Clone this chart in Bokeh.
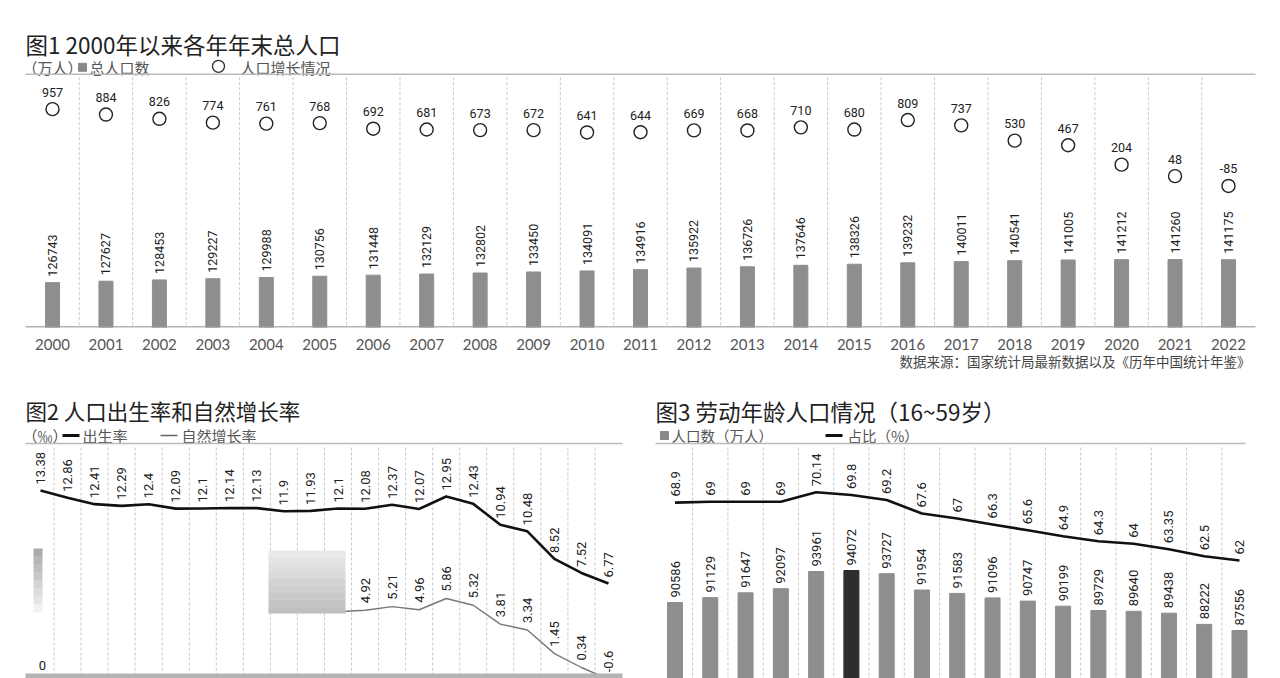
import math
from bokeh.plotting import figure
from bokeh.models import Range1d, FixedTicker
from bokeh.layouts import column, row
from bokeh.core.properties import value
from bokeh.embed import file_html
from bokeh.resources import INLINE

# ---------------- data ----------------
years1 = list(range(2000, 2023))
total_pop = [126743, 127627, 128453, 129227, 129988, 130756, 131448, 132129, 132802, 133450,
             134091, 134916, 135922, 136726, 137646, 138326, 139232, 140011, 140541, 141005,
             141212, 141260, 141175]
pop_growth = [957, 884, 826, 774, 761, 768, 692, 681, 673, 672, 641, 644, 669, 668, 710,
              680, 809, 737, 530, 467, 204, 48, -85]

years2 = list(range(2001, 2023))
birth_rate = [13.38, 12.86, 12.41, 12.29, 12.4, 12.09, 12.1, 12.14, 12.13, 11.9, 11.93, 12.1,
              12.08, 12.37, 12.07, 12.95, 12.43, 10.94, 10.48, 8.52, 7.52, 6.77]
# natural growth: 2012 is hidden under the blurred patch of the original (estimated), label not shown
nat_years = list(range(2012, 2023))
natural_rate = [4.8, 4.92, 5.21, 4.96, 5.86, 5.32, 3.81, 3.34, 1.45, 0.34, -0.6]
nat_label_years = nat_years[1:]
nat_label_values = natural_rate[1:]

years3 = list(range(2006, 2023))
labor_pop = [90586, 91129, 91647, 92097, 93961, 94072, 93727, 91954, 91583, 91096, 90747,
             90199, 89729, 89640, 89438, 88222, 87556]
labor_share = [68.9, 69, 69, 69, 70.14, 69.8, 69.2, 67.6, 67, 66.3, 65.6, 64.9, 64.3, 64,
               63.35, 62.5, 62]
highlight_year = 2011

title1 = "图1 2000年以来各年年末总人口"
title2 = "图2 人口出生率和自然增长率"
title3 = "图3 劳动年龄人口情况（16~59岁）"
source_text = "数据来源：国家统计局最新数据以及《历年中国统计年鉴》"

# ---------------- styling helpers ----------------
CJK = value("Noto Sans CJK SC")
NUM = value("Roboto")
YEARF = "Lato"
BAR_GRAY = "#8e8e8e"
SEP = "#c8c8c8"


def lin_range(v1, p1, v2, p2, pa, pb):
    """Range whose ends map to pixel pa (start) and pb (end), calibrated on two anchors."""
    k = (p2 - p1) / (v2 - v1)
    return Range1d(start=v1 + (pa - p1) / k, end=v1 + (pb - p1) / k)


def ptext(p, x, y, s, size, color="#333", align="left", baseline="middle", font=CJK):
    p.text(x=[x], y=[y], text=[s], x_range_name="px", y_range_name="px",
           text_font=font, text_font_size=f"{size}px", text_color=color,
           text_align=align, text_baseline=baseline)


def pseg(p, x0, y0, x1, y1, color, width=1.0, dash="solid"):
    p.segment(x0=[x0], y0=[y0], x1=[x1], y1=[y1], x_range_name="px", y_range_name="px",
              line_color=color, line_width=width, line_dash=dash)


def base_fig(w, h, xr, yr, pxx, pxy, **kw):
    p = figure(width=w, height=h, x_range=xr, y_range=yr, output_backend="svg",
               toolbar_location=None, min_border=0, y_axis_type=None, **kw)
    p.extra_x_ranges = {"px": pxx}
    p.extra_y_ranges = {"px": pxy}
    p.outline_line_color = None
    p.grid.visible = False
    p.background_fill_color = "white"
    p.border_fill_color = "white"
    return p


# ================= Figure 1 =================
TOP1, BOT1 = 0, 328
W = 1280
xr1 = lin_range(years1[0], 52, years1[-1], 1228, 0, W)
yr1 = lin_range(126743, 283, 141175, 260, BOT1, TOP1)
p1 = base_fig(W, 352, xr1, yr1, Range1d(0, W), Range1d(BOT1, TOP1), min_border_bottom=24)
p1.extra_y_ranges["g"] = lin_range(957, 109, -85, 186, BOT1, TOP1)

p1.xaxis.ticker = FixedTicker(ticks=years1)
p1.xaxis.axis_line_color = None
p1.xaxis.major_tick_line_color = None
p1.xaxis.minor_tick_line_color = None
p1.xaxis.major_label_standoff = 5
p1.xaxis.major_label_text_font = YEARF
p1.xaxis.major_label_text_font_size = "15px"
p1.xaxis.major_label_text_color = "#555"

ptext(p1, 25, 44, title1, 22.5, color="#222")
ptext(p1, 22, 67, "（万人）", 15, color="#555")
p1.scatter(x=[82], y=[67], x_range_name="px", y_range_name="px", marker="square",
           size=8, color="#888")
ptext(p1, 89, 67, "总人口数", 15, color="#555")
p1.scatter(x=[218], y=[66], x_range_name="px", y_range_name="px", marker="circle",
           size=12, fill_color="white", line_color="#333", line_width=1.3)
ptext(p1, 240, 67, "人口增长情况", 15, color="#555")
pseg(p1, 25, 74, 1255, 74, "#bbbbbb", 1.5)

mids1 = [y + 0.5 for y in years1[:-1]]
p1.segment(x0=mids1, y0=[77] * len(mids1), x1=mids1, y1=[327] * len(mids1),
           y_range_name="px", line_color=SEP, line_width=1, line_dash="3 2")

p1.vbar(x=years1, top=total_pop, bottom=yr1.start, width=14 / 53.45, color=BAR_GRAY)
p1.text(x=years1, y=total_pop, text=[str(v) for v in total_pop], angle=math.pi / 2,
        text_align="left", text_baseline="middle", y_offset=-6, text_font=NUM,
        text_font_size="12.5px", text_color="#222")

p1.scatter(x=years1, y=pop_growth, y_range_name="g", marker="circle", size=13,
           fill_color="white", line_color="#222", line_width=1.4)
p1.text(x=years1, y=pop_growth, y_range_name="g", text=[str(v) for v in pop_growth],
        text_align="center", text_baseline="middle", y_offset=-17, text_font=NUM,
        text_font_size="12.5px", text_color="#222")
pseg(p1, 25, 327.5, 1255, 327.5, "#9a9a9a", 1.6)

# ================= Figure 2 =================
TOP2, BOT2 = 352, 678
xr2 = lin_range(years2[0], 40, years2[-1], 608, 0, 632)
yr2 = lin_range(13.38, 490, 6.77, 583, BOT2, TOP2)
p2 = base_fig(632, 326, xr2, yr2, Range1d(0, 632), Range1d(BOT2, TOP2), x_axis_type=None)
p2.extra_y_ranges["n"] = lin_range(5.86, 598, 0.34, 667, BOT2, TOP2)

ptext(p2, 25, 410, title2, 21.5, color="#222")
ptext(p2, 22, 435, "（‰）", 15, color="#555")
pseg(p2, 62, 435, 79, 435, "#111", 3)
ptext(p2, 82, 435, "出生率", 15, color="#555")
pseg(p2, 160, 435, 177, 435, "#666", 1.3)
ptext(p2, 181, 435, "自然增长率", 15, color="#555")
pseg(p2, 25, 443, 622, 443, "#bbbbbb", 1.5)

mids2 = [y + 0.5 for y in years2[:-1]]
p2.segment(x0=mids2, y0=[447] * len(mids2), x1=mids2, y1=[673] * len(mids2),
           y_range_name="px", line_color=SEP, line_width=1, line_dash="3 2")

p2.line(x=years2, y=birth_rate, line_color="#111", line_width=2.6)
p2.text(x=years2, y=birth_rate, text=[f"{v:g}" for v in birth_rate], angle=math.pi / 2,
        text_align="left", text_baseline="middle", y_offset=-6, text_font=NUM,
        text_font_size="13px", text_color="#222")
p2.line(x=nat_years, y=natural_rate, y_range_name="n", line_color="#777", line_width=1.4)
p2.text(x=nat_label_years, y=nat_label_values, y_range_name="n",
        text=[f"{v:g}" for v in nat_label_values],
        angle=math.pi / 2, text_align="left", text_baseline="middle", y_offset=-7,
        text_font=NUM, text_font_size="13px", text_color="#222")

# blurred (masked) areas of the original image, drawn over the hidden part
for i in range(8):
    a = 0.55 - i * 0.065
    p2.quad(left=[33], right=[42], top=[548 + i * 8], bottom=[556 + i * 8],
            x_range_name="px", y_range_name="px", color="#666", alpha=max(a, 0.05), line_width=0)
p2.quad(left=[268], right=[345], top=[550], bottom=[613], x_range_name="px",
        y_range_name="px", color="#f2f2f2", line_width=0)
for i in range(9):
    a = 0.08 + i * 0.045
    p2.quad(left=[268], right=[345], top=[550 + i * 7], bottom=[557 + i * 7],
            x_range_name="px", y_range_name="px", color="#808080", alpha=a, line_width=0)

p2.quad(left=[25], right=[622], top=[673], bottom=[678], x_range_name="px",
        y_range_name="px", color="#b4b4b4", line_width=0)
ptext(p2, 42, 665, "0", 13, color="#222", align="center", font=NUM)

# ================= Figure 3 =================
xr3 = lin_range(years3[0], 674.5, years3[-1], 1239, 632, W)
yr3 = lin_range(94072, 570, 87556, 630, BOT2, TOP2)
p3 = base_fig(W - 632, 326, xr3, yr3, Range1d(632, W), Range1d(BOT2, TOP2), x_axis_type=None)
p3.extra_y_ranges["pct"] = lin_range(70.14, 491.7, 62, 560, BOT2, TOP2)

ptext(p3, 1250, 360, source_text, 13.5, color="#444", align="right")
ptext(p3, 655, 410, title3, 22.5, color="#222")
p3.scatter(x=[664], y=[435], x_range_name="px", y_range_name="px", marker="square",
           size=8, color="#888")
ptext(p3, 671, 435, "人口数（万人）", 14.5, color="#555")
pseg(p3, 825, 435, 842, 435, "#111", 3)
ptext(p3, 847, 435, "占比（%）", 14.5, color="#555")
pseg(p3, 655, 443, 1245, 443, "#bbbbbb", 1.5)

mids3 = [y + 0.5 for y in years3[:-1]]
p3.segment(x0=mids3, y0=[447] * len(mids3), x1=mids3, y1=[678] * len(mids3),
           y_range_name="px", line_color=SEP, line_width=1, line_dash="3 2")

bar_colors = ["#2e2e2e" if y == highlight_year else BAR_GRAY for y in years3]
p3.vbar(x=years3, top=labor_pop, bottom=yr3.start, width=15 / 35.28, color=bar_colors)
p3.text(x=years3, y=labor_pop, text=[str(v) for v in labor_pop], angle=math.pi / 2,
        text_align="left", text_baseline="middle", y_offset=-5, text_font=NUM,
        text_font_size="13px", text_color="#222")
p3.line(x=years3, y=labor_share, y_range_name="pct", line_color="#111", line_width=2.6)
p3.text(x=years3, y=labor_share, y_range_name="pct", text=[f"{v:g}" for v in labor_share],
        angle=math.pi / 2, text_align="left", text_baseline="middle", y_offset=-6,
        text_font=NUM, text_font_size="13px", text_color="#222")

layout = column(p1, row(p2, p3))
open("out.html", "w", encoding="utf-8").write(file_html(layout, INLINE))
